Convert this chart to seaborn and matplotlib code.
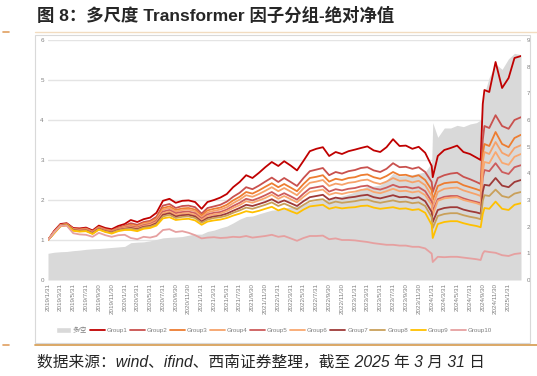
import pandas as pd
import matplotlib.pyplot as plt
import matplotlib.lines as mlines
import matplotlib.patches as mpatches
import seaborn as sns

sns.set_style('white')
plt.rcParams['font.family'] = ['Liberation Sans', 'Noto Sans CJK SC', 'DejaVu Sans']
plt.rcParams['axes.unicode_minus'] = False

# 日期：2019-2023 月末，2024 起加入几个关键交易日
dates = list(pd.date_range('2019-01-31', '2023-12-31', freq='ME')) + list(pd.to_datetime([
    '2024-01-31', '2024-02-05', '2024-02-29', '2024-03-31', '2024-04-30', '2024-05-31',
    '2024-06-30', '2024-07-31', '2024-08-31', '2024-09-20', '2024-09-30', '2024-10-08',
    '2024-10-31', '2024-11-30', '2024-12-31', '2025-01-31', '2025-02-28', '2025-03-31']))

group1 = [1.00, 1.22, 1.40, 1.42, 1.30, 1.29, 1.31, 1.24, 1.36, 1.30, 1.27, 1.35,
          1.40, 1.50, 1.45, 1.52, 1.56, 1.68, 1.98, 2.03, 1.93, 1.98, 1.99, 1.95,
          1.78, 1.95, 2.00, 2.06, 2.15, 2.32, 2.45, 2.62, 2.55, 2.68, 2.82, 2.95,
          2.85, 2.97, 2.86, 2.74, 2.98, 3.22, 3.28, 3.32, 3.10, 3.20, 3.15, 3.22,
          3.26, 3.30, 3.34, 3.24, 3.20, 3.32, 3.52, 3.35, 3.36, 3.28, 3.33, 3.18,
          2.85, 2.57, 3.10, 3.25, 3.30, 3.36, 3.20, 3.15, 3.06, 3.00, 4.40, 4.75, 4.70, 5.45, 4.80,
          5.05, 5.55, 5.60]
group2 = [1.00, 1.20, 1.38, 1.41, 1.28, 1.27, 1.29, 1.22, 1.33, 1.27, 1.24, 1.31,
          1.36, 1.42, 1.38, 1.45, 1.48, 1.58, 1.86, 1.90, 1.80, 1.85, 1.86, 1.82,
          1.66, 1.80, 1.84, 1.88, 1.96, 2.08, 2.18, 2.32, 2.27, 2.36, 2.46, 2.56,
          2.45, 2.55, 2.45, 2.35, 2.55, 2.72, 2.76, 2.80, 2.62, 2.70, 2.66, 2.72,
          2.75, 2.80, 2.82, 2.74, 2.70, 2.78, 2.92, 2.82, 2.83, 2.78, 2.82, 2.70,
          2.45, 2.20, 2.55, 2.62, 2.66, 2.68, 2.58, 2.52, 2.45, 2.40, 3.50, 3.85, 3.80, 4.12, 3.85,
          3.78, 4.00, 4.07]
group3 = [1.00, 1.19, 1.37, 1.40, 1.27, 1.26, 1.28, 1.21, 1.32, 1.26, 1.23, 1.29,
          1.34, 1.38, 1.35, 1.42, 1.45, 1.54, 1.80, 1.84, 1.75, 1.79, 1.80, 1.76,
          1.61, 1.74, 1.78, 1.81, 1.88, 1.99, 2.08, 2.20, 2.16, 2.24, 2.33, 2.42,
          2.32, 2.40, 2.31, 2.22, 2.40, 2.55, 2.58, 2.62, 2.46, 2.53, 2.50, 2.55,
          2.57, 2.62, 2.64, 2.57, 2.53, 2.60, 2.70, 2.62, 2.63, 2.58, 2.62, 2.50,
          2.25, 2.00, 2.35, 2.42, 2.44, 2.45, 2.37, 2.32, 2.27, 2.23, 3.15, 3.40, 3.35, 3.70, 3.40,
          3.32, 3.55, 3.63]
group4 = [1.00, 1.19, 1.37, 1.39, 1.27, 1.25, 1.27, 1.20, 1.31, 1.25, 1.22, 1.28,
          1.33, 1.36, 1.33, 1.40, 1.43, 1.51, 1.76, 1.80, 1.71, 1.75, 1.76, 1.72,
          1.57, 1.69, 1.73, 1.76, 1.82, 1.92, 2.01, 2.12, 2.08, 2.15, 2.23, 2.32,
          2.22, 2.30, 2.21, 2.12, 2.29, 2.43, 2.46, 2.50, 2.35, 2.41, 2.38, 2.43,
          2.45, 2.49, 2.51, 2.44, 2.40, 2.46, 2.55, 2.48, 2.49, 2.44, 2.48, 2.37,
          2.10, 1.85, 2.20, 2.28, 2.30, 2.31, 2.24, 2.19, 2.14, 2.10, 2.95, 3.20, 3.15, 3.45, 3.18,
          3.10, 3.30, 3.37]
group5 = [1.00, 1.18, 1.36, 1.39, 1.26, 1.24, 1.26, 1.19, 1.30, 1.24, 1.21, 1.27,
          1.31, 1.34, 1.31, 1.37, 1.40, 1.48, 1.71, 1.75, 1.67, 1.70, 1.71, 1.67,
          1.53, 1.64, 1.68, 1.70, 1.76, 1.85, 1.93, 2.03, 1.99, 2.05, 2.12, 2.20,
          2.10, 2.17, 2.09, 2.01, 2.16, 2.29, 2.32, 2.35, 2.21, 2.27, 2.24, 2.28,
          2.30, 2.34, 2.36, 2.29, 2.26, 2.31, 2.38, 2.32, 2.33, 2.29, 2.32, 2.22,
          1.96, 1.72, 2.02, 2.08, 2.10, 2.10, 2.04, 1.99, 1.95, 1.92, 2.55, 2.75, 2.72, 2.92, 2.70,
          2.65, 2.82, 2.87]
group6 = [1.00, 1.18, 1.36, 1.38, 1.26, 1.24, 1.25, 1.18, 1.29, 1.23, 1.20, 1.26,
          1.30, 1.32, 1.29, 1.35, 1.38, 1.45, 1.67, 1.71, 1.63, 1.66, 1.67, 1.63,
          1.50, 1.60, 1.64, 1.66, 1.72, 1.80, 1.87, 1.97, 1.93, 1.99, 2.05, 2.13,
          2.03, 2.10, 2.02, 1.94, 2.08, 2.20, 2.23, 2.26, 2.13, 2.18, 2.15, 2.19,
          2.21, 2.25, 2.27, 2.20, 2.17, 2.22, 2.28, 2.22, 2.23, 2.19, 2.22, 2.12,
          1.88, 1.62, 1.98, 2.04, 2.06, 2.07, 2.00, 1.96, 1.92, 1.88, 2.70, 2.95, 2.92, 3.20, 2.93,
          2.88, 3.08, 3.15]
group7 = [1.00, 1.17, 1.35, 1.38, 1.25, 1.23, 1.24, 1.17, 1.28, 1.22, 1.19, 1.25,
          1.28, 1.30, 1.27, 1.33, 1.35, 1.42, 1.63, 1.67, 1.59, 1.62, 1.63, 1.59,
          1.46, 1.55, 1.59, 1.61, 1.66, 1.73, 1.80, 1.88, 1.85, 1.90, 1.95, 2.02,
          1.93, 1.99, 1.92, 1.85, 1.97, 2.07, 2.10, 2.13, 2.01, 2.06, 2.03, 2.06,
          2.08, 2.11, 2.13, 2.07, 2.04, 2.08, 2.12, 2.07, 2.08, 2.04, 2.07, 1.97,
          1.70, 1.45, 1.75, 1.80, 1.82, 1.82, 1.76, 1.72, 1.69, 1.66, 2.20, 2.38, 2.36, 2.55, 2.36,
          2.32, 2.45, 2.50]
group8 = [1.00, 1.17, 1.35, 1.37, 1.24, 1.22, 1.23, 1.16, 1.27, 1.21, 1.18, 1.24,
          1.27, 1.28, 1.25, 1.31, 1.33, 1.39, 1.59, 1.63, 1.55, 1.58, 1.59, 1.55,
          1.43, 1.51, 1.55, 1.57, 1.61, 1.68, 1.74, 1.81, 1.78, 1.83, 1.88, 1.94,
          1.85, 1.91, 1.84, 1.77, 1.88, 1.97, 2.00, 2.02, 1.91, 1.96, 1.93, 1.95,
          1.97, 2.00, 2.01, 1.96, 1.93, 1.96, 1.99, 1.95, 1.96, 1.92, 1.94, 1.85,
          1.57, 1.30, 1.60, 1.65, 1.67, 1.67, 1.62, 1.58, 1.55, 1.52, 1.98, 2.12, 2.10, 2.26, 2.10,
          2.06, 2.16, 2.20]
group9 = [1.00, 1.16, 1.34, 1.37, 1.23, 1.21, 1.22, 1.15, 1.26, 1.20, 1.16, 1.22,
          1.25, 1.25, 1.22, 1.28, 1.30, 1.36, 1.54, 1.57, 1.50, 1.52, 1.53, 1.49,
          1.38, 1.46, 1.49, 1.51, 1.55, 1.61, 1.66, 1.72, 1.69, 1.73, 1.78, 1.83,
          1.74, 1.79, 1.72, 1.66, 1.76, 1.84, 1.86, 1.88, 1.78, 1.82, 1.79, 1.81,
          1.82, 1.85, 1.86, 1.81, 1.78, 1.80, 1.82, 1.78, 1.79, 1.75, 1.77, 1.68,
          1.38, 1.05, 1.40, 1.45, 1.47, 1.47, 1.42, 1.38, 1.35, 1.32, 1.65, 1.80, 1.78, 1.96, 1.78,
          1.75, 1.88, 1.92]
group10 = [1.00, 1.18, 1.35, 1.36, 1.17, 1.14, 1.13, 1.08, 1.18, 1.12, 1.08, 1.12,
           1.13, 1.05, 1.02, 1.08, 1.06, 1.10, 1.25, 1.27, 1.20, 1.22, 1.18, 1.12,
           1.04, 1.06, 1.07, 1.05, 1.06, 1.08, 1.07, 1.10, 1.06, 1.08, 1.10, 1.13,
           1.08, 1.10, 1.04, 0.98, 1.05, 1.10, 1.10, 1.11, 1.02, 1.04, 1.00, 1.00,
           0.99, 0.97, 0.95, 0.92, 0.90, 0.88, 0.88, 0.86, 0.86, 0.83, 0.83, 0.79,
           0.66, 0.45, 0.58, 0.57, 0.58, 0.58, 0.56, 0.54, 0.52, 0.50, 0.66, 0.72, 0.70, 0.68, 0.62,
           0.60, 0.65, 0.67]
# 多/空 净值（右轴）
long_short = [1.00, 1.04, 1.06, 1.07, 1.10, 1.12, 1.15, 1.17, 1.18, 1.20, 1.22, 1.24,
              1.26, 1.40, 1.42, 1.43, 1.47, 1.52, 1.58, 1.60, 1.61, 1.63, 1.68, 1.72,
              1.72, 1.82, 1.87, 1.95, 2.02, 2.14, 2.28, 2.38, 2.40, 2.48, 2.55, 2.62,
              2.64, 2.70, 2.74, 2.78, 2.84, 2.92, 2.98, 3.00, 3.04, 3.08, 3.15, 3.22,
              3.30, 3.40, 3.52, 3.52, 3.56, 3.75, 4.00, 3.90, 3.92, 3.95, 4.00, 4.05,
              4.40, 5.90, 5.35, 5.70, 5.70, 5.80, 5.75, 5.85, 5.90, 6.00, 6.70, 7.00, 7.60, 8.10, 7.90,
              8.30, 8.50, 8.45]

group_names = ['Group1', 'Group2', 'Group3', 'Group4', 'Group5',
               'Group6', 'Group7', 'Group8', 'Group9', 'Group10']
group_colors = ['#C00000', '#C9514E', '#ED7D31', '#F6A26A', '#CD5C5C',
                '#F9A870', '#9E3A38', '#C9A05A', '#FFC000', '#E6A0A0']

df = pd.DataFrame({'date': dates, 'Group1': group1, 'Group2': group2, 'Group3': group3,
                   'Group4': group4, 'Group5': group5, 'Group6': group6, 'Group7': group7,
                   'Group8': group8, 'Group9': group9, 'Group10': group10})
long_df = df.melt(id_vars='date', var_name='group', value_name='nav')

fig = plt.figure(figsize=(5.37, 3.76), dpi=100)
ax = fig.add_axes([48/537, 1-280/376, 473/537, 240/376])
ax2 = ax.twinx()

# 右轴：多/空面积 + 网格线（在曲线下方）
for v in [0, 1.5, 3, 4.5, 6, 7.5, 9]:
    ax2.axhline(v, color='#E4E4E4', lw=1.0, zorder=0)
ax2.fill_between(df['date'], 0, long_short, color='#D9D9D9', lw=0, zorder=1)
ax2.set_ylim(0, 9)
ax2.set_yticks(range(0, 10))

sns.lineplot(data=long_df, x='date', y='nav', hue='group', hue_order=group_names,
             palette=group_colors, lw=1.3, legend=False, ax=ax)
ax.set_zorder(ax2.get_zorder() + 1)
ax.patch.set_visible(False)
ax.set_ylim(0, 6)
ax.set_yticks(range(0, 7))
ax.set_xlim(pd.Timestamp('2019-01-31'), pd.Timestamp('2025-03-31'))
ax.set_xlabel('')
ax.set_ylabel('')
ax.grid(False)

xt = pd.date_range('2019-01-31', '2025-01-31', freq='2ME')
ax.set_xticks(xt)
ax.set_xticklabels([f'{d.year}/{d.month}/{d.day}' for d in xt], rotation=90, va='top')

for a in (ax, ax2):
    for s in a.spines.values():
        s.set_visible(False)
    a.tick_params(length=0, labelsize=4.5, labelcolor='#7F7F7F')
ax.tick_params(axis='y', pad=3)
ax.tick_params(axis='x', pad=2)
ax2.tick_params(axis='y', pad=4)

handles = [mpatches.Patch(facecolor='#D9D9D9', label='多/空')]
handles += [mlines.Line2D([], [], color=c, lw=1.3, label=n) for n, c in zip(group_names, group_colors)]
fig.legend(handles=handles, loc='center', bbox_to_anchor=(0.51, 1-330/376), ncol=11,
           frameon=False, fontsize=4.5, labelcolor='#7F7F7F', handlelength=2.4,
           handleheight=0.9, handletextpad=0.3, columnspacing=0.4)

# 外框与装饰线
fig.add_artist(mpatches.Rectangle((35/537, 1-343/376), 495/537, 308/376, transform=fig.transFigure,
                                  fill=False, ec='#D9D9D9', lw=0.8))
fig.add_artist(mlines.Line2D([35/537, 1], [1-32/376]*2, color='#F2DCC0', lw=1.0))
fig.add_artist(mlines.Line2D([35/537, 1], [1-345/376]*2, color='#D8A15A', lw=1.3))
for yy in (32, 345):
    fig.add_artist(mlines.Line2D([3/537, 9/537], [1-yy/376]*2, color='#E0A060', lw=1.2))

fig.text(37/537, 1-15/376, '图 8：多尺度 Transformer 因子分组-绝对净值', fontsize=12.5,
         fontweight='bold', va='center', ha='left')
fig.text(37/537, 1-362/376, '数据来源：wind、ifind、西南证券整理，截至 2025 年 3 月 31 日',
         fontsize=11.3, style='italic', va='center', ha='left')

fig.savefig('out.png', dpi=100)
